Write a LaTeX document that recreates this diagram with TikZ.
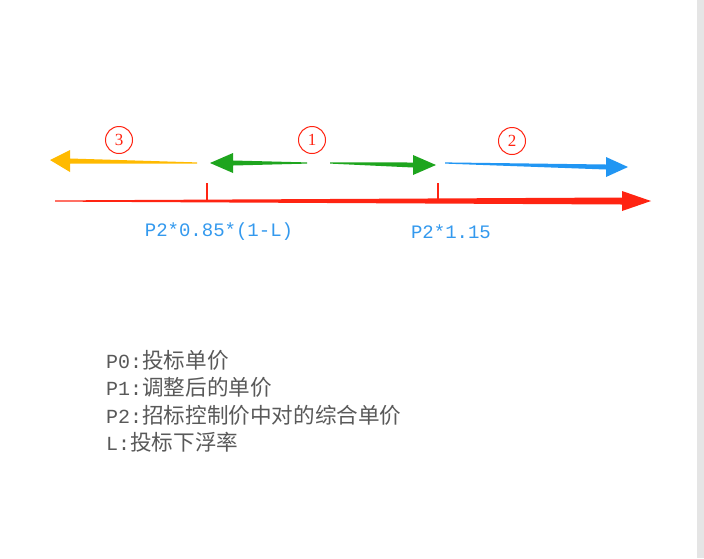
\documentclass[tikz,border=0pt]{standalone}
\usepackage{fontspec}
\setmainfont{Liberation Serif}
\setmonofont{Liberation Mono}
\newfontfamily\cjk{Noto Sans CJK SC}[Scale=1.08]
\definecolor{ared}{HTML}{FF2412}
\definecolor{agreen}{HTML}{1EA51E}
\definecolor{ablue}{HTML}{2196F3}
\definecolor{ayellow}{HTML}{FFBA00}
\definecolor{lblue}{HTML}{3399EE}
\begin{document}
\begin{tikzpicture}[x=1pt,y=-1pt,
  lbl/.style={text=lblue, font=\fontsize{19}{22}\selectfont\ttfamily, inner sep=0},
  legend/.style={text=black!65, font=\fontsize{20}{27.5}\selectfont\ttfamily, align=left, anchor=north west, inner sep=0},
  num/.style={circle, draw=ared, line width=1pt, text=ared, minimum size=27pt, inner sep=0, font=\fontsize{17}{17}\selectfont}]
\useasboundingbox (0,0) rectangle (704,558);
\fill[white] (0,0) rectangle (704,558);
\fill[black!10] (697,0) rectangle (704,558);
\newcommand\tarrow[9]{\fill[#1] (#2,#3-0.6) -- (#4,#5-#8) -- (#4,#5-#9) -- (#6,#7) -- (#4,#5+#9) -- (#4,#5+#8) -- (#2,#3+0.6) -- cycle;}
\tarrow{ared}{55}{201}{622}{201}{651}{201}{3.5}{10}
\tarrow{ayellow}{197}{163}{70}{161}{50}{160}{2.5}{11}
\tarrow{agreen}{307}{163}{233}{163}{210}{163}{2.5}{10}
\tarrow{agreen}{330}{163}{413}{165}{436}{165}{2.5}{10}
\tarrow{ablue}{445}{163}{606}{167}{628}{167}{2.5}{10}
\draw[ared, line width=2.5] (207,201) -- (207,183);
\draw[ared, line width=2.5] (438,201) -- (438,183);
\node[num] (c3) at (119,140) {3};
\node[num] (c1) at (312,140) {1};
\node[num] (c2) at (512,141) {2};
\node[lbl] (l1) at (219,232) {P2*0.85*(1-L)};
\node[lbl] (l2) at (451,232) {P2*1.15};
\node[legend] (lg) at (106,350) {P0:{\cjk 投标单价}\\P1:{\cjk 调整后的单价}\\P2:{\cjk 招标控制价中对的综合单价}\\L:{\cjk 投标下浮率}};
\end{tikzpicture}
\end{document}
